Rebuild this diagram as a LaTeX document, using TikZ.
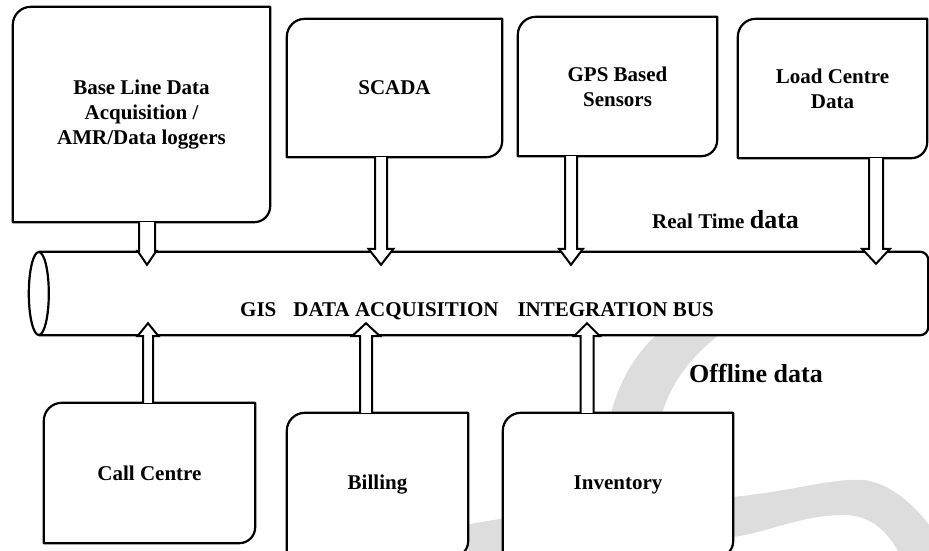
\documentclass[tikz,border=0pt]{standalone}
\usepackage{fontspec}
\setmainfont{Liberation Serif}
\usetikzlibrary{calc}

\definecolor{wmgray}{RGB}{221,221,221}

\tikzset{
    box/.style={fill=white, draw=none, inner sep=0pt, align=center,
        font=\fontsize{21}{25}\selectfont\bfseries},
    outline/.style={line width=2.2pt, line join=round},
    blk/.style={line width=2pt, fill=white, line join=miter},
    lbl/.style={inner sep=0pt, font=\fontsize{21}{25}\selectfont\bfseries},
    biglbl/.style={inner sep=0pt, font=\fontsize{26}{30}\selectfont\bfseries}
}

% hollow block arrow: from, tip, shaft half width, head half width, head length
\newcommand{\blkarrow}[5]{%
    \coordinate (hb) at ($(#2)!#5!(#1)$);
    \draw[blk] ($(#1)!#3!90:(#2)$) -- ($(hb)!#3!90:(#2)$) -- ($(hb)!#4!90:(#2)$) -- (#2)
        -- ($(hb)!#4!-90:(#2)$) -- ($(hb)!#3!-90:(#2)$) -- ($(#1)!#3!-90:(#2)$);
}

\begin{document}
\begin{tikzpicture}[x=1pt, y=-1pt]
    \useasboundingbox (0,0) rectangle (929,550);
    \clip (0,0) rectangle (929,550);

    % watermark
    \fill[wmgray] (605,450) .. controls (610,390) and (635,350) .. (668,325) -- (732,325)
        .. controls (690,355) and (660,390) .. (655,450) -- cycle;
    \fill[wmgray] (420,535) .. controls (540,505) and (660,505) .. (733,497)
        .. controls (800,490) and (830,478) .. (865,480)
        .. controls (895,485) and (920,510) .. (940,540) -- (940,560) -- (903,560)
        .. controls (890,535) and (875,516) .. (845,515)
        .. controls (800,515) and (770,532) .. (733,537)
        .. controls (640,545) and (540,555) .. (440,575) -- cycle;

    % bus
    \node[fill=white, inner sep=0pt, minimum width=889pt, minimum height=83pt] (bus) at (483.5,293.5) {};
    \draw[outline] (bus.north west) -- ([xshift=-8pt]bus.north east) arc[start angle=90, end angle=0, radius=8pt]
        -- ([yshift=8pt]bus.south east) arc[start angle=0, end angle=-90, radius=8pt] -- (bus.south west);
    \draw[outline, fill=white] (bus.west) ellipse[x radius=10pt, y radius=41.5pt];

    % sources
    \node[box, minimum width=257pt, minimum height=215pt] (base) at (141.5,114.5) {Base Line Data\\Acquisition /\\AMR/Data loggers};
    \node[box, minimum width=215pt, minimum height=138pt] (scada) at (394.5,88) {SCADA};
    \node[box, minimum width=199pt, minimum height=139pt] (gps) at (617.5,86.5) {GPS Based\\Sensors};
    \node[box, minimum width=189pt, minimum height=139pt] (load) at (832.5,88.5) {Load Centre\\Data};
    \node[box, minimum width=211pt, minimum height=140pt] (call) at (149.5,473) {Call Centre};
    \node[box, minimum width=181pt, minimum height=144pt] (bill) at (377.5,485) {Billing};
    \node[box, minimum width=230pt, minimum height=144pt] (inv) at (618,485) {Inventory};

    \foreach \n in {base,scada,gps,load,call,bill,inv}
        \draw[outline] (\n.south west) -- ([yshift=-18pt]\n.north west) arc[start angle=180, end angle=90, radius=18pt]
            -- (\n.north east) -- ([yshift=16pt]\n.south east) arc[start angle=0, end angle=-90, radius=16pt] -- cycle;

    % real time arrows
    \coordinate (a1) at (147,0 |- base.south);
    \coordinate (t1) at ($(147,0 |- bus.north)+(0,13)$);
    \coordinate (a2) at (381,0 |- scada.south);
    \coordinate (t2) at ($(381,0 |- bus.north)+(0,13)$);
    \coordinate (a3) at (571,0 |- gps.south);
    \coordinate (t3) at ($(571,0 |- bus.north)+(0,13)$);
    \coordinate (a4) at (876,0 |- load.south);
    \coordinate (t4) at ($(876,0 |- bus.north)+(0,12)$);
    \blkarrow{a1}{t1}{8pt}{9.5pt}{14pt}
    \blkarrow{a2}{t2}{6pt}{12.5pt}{16pt}
    \blkarrow{a3}{t3}{6pt}{12pt}{16pt}
    \blkarrow{a4}{t4}{7pt}{14pt}{15pt}

    % offline arrows
    \coordinate (b1) at (148,0 |- call.north);
    \coordinate (u1) at ($(148,0 |- bus.south)+(0,-12)$);
    \coordinate (b2) at (366,0 |- bill.north);
    \coordinate (u2) at ($(366,0 |- bus.south)+(0,-12)$);
    \coordinate (b3) at (587,0 |- inv.north);
    \coordinate (u3) at ($(587,0 |- bus.south)+(0,-12)$);
    \blkarrow{b1}{u1}{5pt}{10.5pt}{13pt}
    \blkarrow{b2}{u2}{6pt}{14pt}{13pt}
    \blkarrow{b3}{u3}{6.5pt}{13pt}{13pt}

    % labels
    \node[lbl, anchor=base west] (bustxt) at (240,316) {GIS\hspace{17pt}DATA ACQUISITION\hspace{19pt}INTEGRATION BUS};
    \node[lbl, anchor=base west] (realtime) at (652,228) {Real Time {\fontsize{26}{30}\selectfont data}};
    \node[biglbl, anchor=base west] (offline) at (689,382) {Offline data};
\end{tikzpicture}
\end{document}
